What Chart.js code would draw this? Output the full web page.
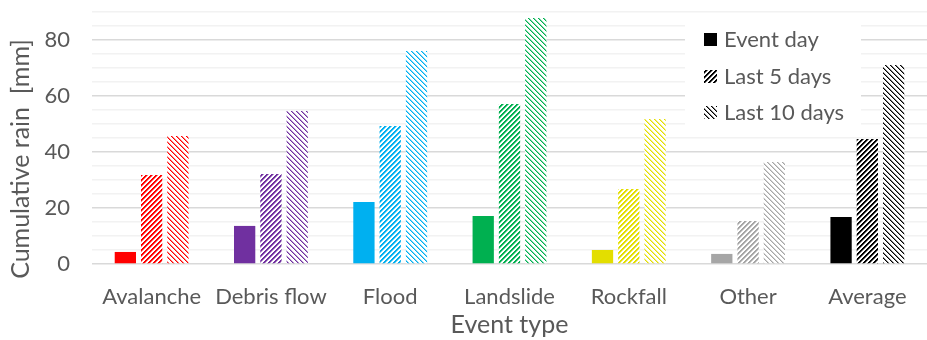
<!DOCTYPE html>
<html>
<head>
<meta charset="utf-8">
<title>Cumulative rain by event type</title>
<script src="https://cdn.jsdelivr.net/npm/chart.js@4.4.1/dist/chart.umd.min.js"></script>
<style>
  html, body { margin: 0; padding: 0; background: #fff; }
</style>
</head>
<body>
<canvas id="rainChart" width="927" height="340"></canvas>
<script>
// --- data ---
const eventTypes = ['Avalanche', 'Debris flow', 'Flood', 'Landslide', 'Rockfall', 'Other', 'Average'];
const seriesNames = ['Event day', 'Last 5 days', 'Last 10 days'];
const eventDayRain = [4.3, 13.6, 22.1, 17.1, 5.0, 3.6, 16.8];     // mm
const last5DaysRain = [31.8, 32.1, 49.3, 57.1, 26.8, 15.4, 44.6];  // mm
const last10DaysRain = [45.7, 54.6, 76.1, 87.9, 51.8, 36.4, 71.1]; // mm
const typeColors = ['#FF0000', '#7030A0', '#00B0F0', '#00B050', '#E3DE00', '#A6A6A6', '#000000'];
const yTickLabels = [0, 20, 40, 60, 80];

const TEXT_COLOR = '#595959';
const FONT = "Lato, 'Open Sans', sans-serif";

/**
 * 斜線ハッチのパターンを作る
 * kind: 'up' = 太い「/」, 'down' = 細い「\」
 */
function makeHatch(color, kind) {
    const size = 5;
    const tile = document.createElement('canvas');
    tile.width = size;
    tile.height = size;
    const g = tile.getContext('2d');
    g.fillStyle = '#ffffff';
    g.fillRect(0, 0, size, size);
    g.fillStyle = color;
    for (let y = 0; y < size; y++) {
        for (let x = 0; x < size; x++) {
            if (kind === 'up') {
                const k = (x + y) % size;
                if (k < 2) {
                    g.globalAlpha = 1;
                    g.fillRect(x, y, 1, 1);
                } else if (k === 2) {
                    g.globalAlpha = 0.5;
                    g.fillRect(x, y, 1, 1);
                }
            } else {
                const k = ((x - y) % size + size) % size;
                if (k === 0) {
                    g.globalAlpha = 1;
                    g.fillRect(x, y, 1, 1);
                } else if (k === 1) {
                    g.globalAlpha = 0.5;
                    g.fillRect(x, y, 1, 1);
                }
            }
        }
    }
    return g.createPattern(tile, 'repeat');
}

const seriesValues = [eventDayRain, last5DaysRain, last10DaysRain];
const hatchKinds = [null, 'up', 'down'];

const datasets = seriesValues.map((vals, i) => ({
    label: seriesNames[i],
    data: vals,
    backgroundColor: hatchKinds[i] ? typeColors.map(c => makeHatch(c, hatchKinds[i])) : typeColors,
    borderWidth: 0,
    categoryPercentage: 0.661,
    barPercentage: 0.81
}));

// 凡例（白背景の枠の中に黒のサンプル）
const legendBox = {
    id: 'legendBox',
    afterDatasetsDraw(chart) {
        const ctx = chart.ctx;
        ctx.save();
        ctx.fillStyle = '#ffffff';
        ctx.fillRect(685, 25, 176, 101);
        const rowY = [40, 77, 113];
        seriesNames.forEach((name, i) => {
            ctx.fillStyle = hatchKinds[i] ? makeHatch('#000000', hatchKinds[i]) : '#000000';
            ctx.fillRect(704, rowY[i] - 7, 13, 13);
            ctx.fillStyle = TEXT_COLOR;
            ctx.font = '22px ' + FONT;
            ctx.textAlign = 'left';
            ctx.textBaseline = 'middle';
            ctx.fillText(name, 724, rowY[i]);
        });
        ctx.restore();
    }
};

// 縦軸タイトル（図全体の高さに合わせて中央寄せ）
const yTitle = {
    id: 'yTitle',
    afterDraw(chart) {
        const ctx = chart.ctx;
        ctx.save();
        ctx.translate(21, 159);
        ctx.rotate(-Math.PI / 2);
        ctx.fillStyle = TEXT_COLOR;
        ctx.font = '25px ' + FONT;
        ctx.textAlign = 'center';
        ctx.textBaseline = 'middle';
        ctx.fillText('Cumulative rain  [mm]', 0, 0);
        ctx.restore();
    }
};

Chart.defaults.font.family = FONT;
Chart.defaults.color = TEXT_COLOR;

new Chart(document.getElementById('rainChart').getContext('2d'), {
    type: 'bar',
    data: { labels: eventTypes, datasets: datasets },
    options: {
        responsive: false,
        animation: false,
        layout: { padding: { top: 12, right: -7, left: 0, bottom: 0 } },
        plugins: {
            legend: { display: false },
            tooltip: { enabled: false }
        },
        scales: {
            x: {
                grid: { display: false },
                border: { display: false },
                ticks: { font: { size: 22 }, padding: 12, maxRotation: 0, autoSkip: false },
                title: {
                    display: true,
                    text: 'Event type',
                    font: { size: 25 },
                    padding: { top: 0, bottom: 0 }
                },
                afterFit(scale) {
                    scale.height = 76;
                    scale.paddingLeft = 0;
                    scale.paddingRight = 0;
                }
            },
            y: {
                min: 0,
                max: 90,
                border: { display: false },
                grid: {
                    drawTicks: false,
                    lineWidth: 1.5,
                    color: c => (c.tick && c.tick.value % 20 === 0) ? '#D9D9D9' : '#F2F2F2'
                },
                ticks: {
                    stepSize: 5,
                    maxTicksLimit: 20,
                    autoSkip: false,
                    padding: 22,
                    font: { size: 22 },
                    callback: v => yTickLabels.includes(v) ? String(v) : ''
                },
                afterFit(scale) {
                    scale.width = 92;
                    scale.paddingTop = 0;
                    scale.paddingBottom = 0;
                }
            }
        }
    },
    plugins: [legendBox, yTitle]
});
</script>
</body>
</html>
